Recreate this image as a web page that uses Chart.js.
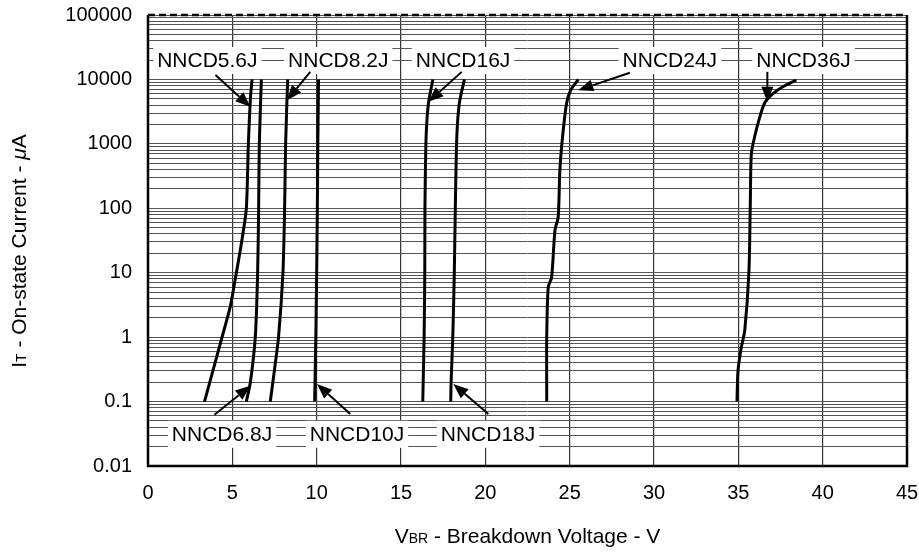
<!DOCTYPE html>
<html>
<head>
<meta charset="utf-8">
<script src="https://cdn.jsdelivr.net/npm/chart.js@4.4.1/dist/chart.umd.min.js"></script>
<style>
  html, body { margin: 0; padding: 0; background: #fff; }
  canvas { display: block; }
</style>
</head>
<body>
<canvas id="vbr-chart" width="919" height="553"></canvas>
<script>
const seriesNames = ["NNCD5.6J", "NNCD6.8J", "NNCD8.2J", "NNCD10J", "NNCD16J", "NNCD18J", "NNCD24J", "NNCD36J"];

// breakdown voltage (V) vs on-state current (uA)
const nncd56V = [3.35, 4.39, 4.88, 5.24, 5.55, 5.83, 5.95, 6.07, 6.17];
const nncd56I = [0.1, 1, 3, 10, 30, 100, 1000, 5000, 10000];
const nncd68V = [5.83, 6.07, 6.36, 6.5, 6.56, 6.6, 6.72];
const nncd68I = [0.1, 0.2, 1, 10, 100, 1000, 10000];
const nncd82V = [7.25, 7.49, 7.74, 8.0, 8.1, 8.16, 8.28];
const nncd82I = [0.1, 0.3, 1, 10, 100, 1000, 10000];
const nncd10V = [9.88, 9.95, 10.0, 10.04, 10.07, 10.11];
const nncd10I = [0.1, 1, 10, 100, 1000, 10000];
const nncd16V = [16.29, 16.37, 16.41, 16.42, 16.49, 16.63, 16.89];
const nncd16I = [0.1, 1, 10, 100, 1300, 4300, 10000];
const nncd18V = [17.95, 17.97, 18.07, 18.16, 18.22, 18.31, 18.46, 18.76];
const nncd18I = [0.1, 0.2, 1, 10, 100, 1300, 4300, 10000];
const nncd24V = [23.64, 23.64, 23.73, 23.93, 24.13, 24.32, 24.42, 24.58, 24.82, 25.06, 25.51];
const nncd24I = [0.1, 1, 6, 8.5, 46, 73, 390, 1300, 4300, 6800, 10000];
const nncd36V = [34.92, 34.98, 35.18, 35.38, 35.63, 35.71, 35.77, 35.97, 36.22, 36.56, 37.05, 37.64, 38.44];
const nncd36I = [0.1, 0.3, 0.7, 1.26, 10.7, 120, 700, 1300, 2340, 4300, 6000, 7700, 9800];

const xTickValues = [0, 5, 10, 15, 20, 25, 30, 35, 40, 45];
const yTickValues = [0.01, 0.1, 1, 10, 100, 1000, 10000, 100000];
const yTickLabels = ["0.01", "0.1", "1", "10", "100", "1000", "10000", "100000"];

const FONT = '"Liberation Sans", Arial, Helvetica, sans-serif';

const curves = [
  [nncd56V, nncd56I], [nncd68V, nncd68I], [nncd82V, nncd82I], [nncd10V, nncd10I],
  [nncd16V, nncd16I], [nncd18V, nncd18I], [nncd24V, nncd24I], [nncd36V, nncd36I]
];

const datasets = curves.map(([v, i], k) => ({
  label: seriesNames[k],
  data: v.map((x, n) => ({ x: x, y: i[n] })),
  borderColor: '#000',
  borderWidth: 3,
  pointRadius: 0,
  tension: 0.25,
  fill: false
}));

// minor grid lines, 1..9 per decade
const yGrid = [];
for (let e = -2; e < 5; e++) {
  for (let m = 1; m < 10; m++) yGrid.push(m * Math.pow(10, e));
}
yGrid.push(100000);

function drawRuns(ctx, runs, x, y) {
  let w = 0;
  runs.forEach(r => { ctx.font = r.font; w += ctx.measureText(r.text).width; });
  let cx = x - w / 2;
  runs.forEach(r => {
    ctx.font = r.font;
    ctx.fillText(r.text, cx, y);
    cx += ctx.measureText(r.text).width;
  });
}

const calloutPlugin = {
  id: 'callouts',
  afterDatasetsDraw(chart, args, opts) {
    const { ctx, scales: { x, y } } = chart;
    ctx.save();
    opts.items.forEach(item => {
      // white box behind the label
      ctx.font = '21px ' + FONT;
      const w = ctx.measureText(item.text).width;
      const cx = x.getPixelForValue(item.at[0]);
      const cy = y.getPixelForValue(item.at[1]);
      ctx.fillStyle = '#fff';
      ctx.fillRect(cx - w / 2 - 4, cy - 13, w + 8, 27);
      ctx.fillStyle = '#000';
      ctx.textAlign = 'center';
      ctx.textBaseline = 'middle';
      ctx.fillText(item.text, cx, cy + 1);

      // arrow
      const x1 = x.getPixelForValue(item.from[0]), y1 = y.getPixelForValue(item.from[1]);
      const x2 = x.getPixelForValue(item.to[0]), y2 = y.getPixelForValue(item.to[1]);
      const a = Math.atan2(y2 - y1, x2 - x1);
      const len = 15, half = 6;
      const bx = x2 - len * Math.cos(a), by = y2 - len * Math.sin(a);
      ctx.strokeStyle = '#000';
      ctx.lineWidth = 2;
      ctx.beginPath();
      ctx.moveTo(x1, y1);
      ctx.lineTo(bx, by);
      ctx.stroke();
      ctx.beginPath();
      ctx.moveTo(x2, y2);
      ctx.lineTo(bx + half * Math.sin(a), by - half * Math.cos(a));
      ctx.lineTo(bx - half * Math.sin(a), by + half * Math.cos(a));
      ctx.closePath();
      ctx.fill();
    });
    ctx.restore();
  }
};

const framePlugin = {
  id: 'frame',
  afterDraw(chart) {
    const { ctx, chartArea: { left, right, top, bottom } } = chart;
    ctx.save();
    ctx.strokeStyle = '#000';
    ctx.lineWidth = 2.5;
    ctx.beginPath();
    ctx.moveTo(left, top);
    ctx.lineTo(left, bottom);
    ctx.lineTo(right, bottom);
    ctx.lineTo(right, top);
    ctx.stroke();
    ctx.setLineDash([7, 4]);
    ctx.beginPath();
    ctx.moveTo(left, top);
    ctx.lineTo(right, top);
    ctx.stroke();
    ctx.setLineDash([]);

    // axis titles with subscripts
    ctx.fillStyle = '#000';
    ctx.textAlign = 'left';
    ctx.textBaseline = 'alphabetic';
    const big = '21px ' + FONT, sub = '14px ' + FONT;
    drawRuns(ctx, [
      { text: 'V', font: big },
      { text: 'BR', font: sub },
      { text: ' - Breakdown Voltage - V', font: big }
    ], (left + right) / 2, 543);

    ctx.translate(26, 251);
    ctx.rotate(-Math.PI / 2);
    drawRuns(ctx, [
      { text: 'I', font: big },
      { text: 'T', font: sub },
      { text: ' - On-state Current - ', font: big },
      { text: 'μ', font: 'italic 21px ' + FONT },
      { text: 'A', font: big }
    ], 0, 0);
    ctx.restore();
  }
};

new Chart(document.getElementById('vbr-chart'), {
  type: 'line',
  data: { datasets: datasets },
  options: {
    responsive: false,
    animation: false,
    devicePixelRatio: 1,
    layout: { padding: { top: 15, right: 12, left: 0, bottom: 0 } },
    scales: {
      x: {
        type: 'linear',
        min: 0,
        max: 45,
        afterFit: s => { s.height = 87; s.paddingLeft = 0; s.paddingRight = 0; },
        afterBuildTicks: s => { s.ticks = xTickValues.map(v => ({ value: v })); },
        ticks: { color: '#000', font: { family: FONT, size: 20 }, padding: 15, maxRotation: 0, autoSkip: false },
        grid: { color: '#333', lineWidth: 1.2, drawTicks: false },
        border: { display: false }
      },
      y: {
        type: 'logarithmic',
        min: 0.01,
        max: 100000,
        afterFit: s => { s.width = 148; s.paddingTop = 0; s.paddingBottom = 0; },
        afterBuildTicks: s => { s.ticks = yGrid.map(v => ({ value: v })); },
        ticks: {
          color: '#000',
          font: { family: FONT, size: 20 },
          padding: 16,
          autoSkip: false,
          callback: v => {
            const k = yTickValues.findIndex(t => Math.abs(Math.log10(t) - Math.log10(v)) < 1e-6);
            return k >= 0 ? yTickLabels[k] : '';
          }
        },
        grid: { color: '#555', lineWidth: 1, drawTicks: false },
        border: { display: false }
      }
    },
    plugins: {
      legend: { display: false },
      tooltip: { enabled: false },
      callouts: {
        items: [
          { text: seriesNames[0], at: [3.52, 20000], from: [4.0, 11700], to: [6.07, 3750] },
          { text: seriesNames[2], at: [11.28, 20000], from: [9.62, 13100], to: [8.24, 4760] },
          { text: seriesNames[4], at: [18.68, 20000], from: [18.6, 13100], to: [16.63, 4490] },
          { text: seriesNames[6], at: [30.94, 20000], from: [28.57, 12700], to: [25.51, 6820] },
          { text: seriesNames[7], at: [38.87, 20000], from: [36.72, 13100], to: [36.72, 4490] },
          { text: seriesNames[1], at: [4.39, 0.0316], from: [3.94, 0.0624], to: [6.07, 0.176] },
          { text: seriesNames[3], at: [12.39, 0.0316], from: [11.99, 0.064], to: [10.02, 0.187] },
          { text: seriesNames[5], at: [20.16, 0.0316], from: [20.18, 0.064], to: [18.1, 0.187] }
        ]
      }
    }
  },
  plugins: [calloutPlugin, framePlugin]
});
</script>
</body>
</html>
